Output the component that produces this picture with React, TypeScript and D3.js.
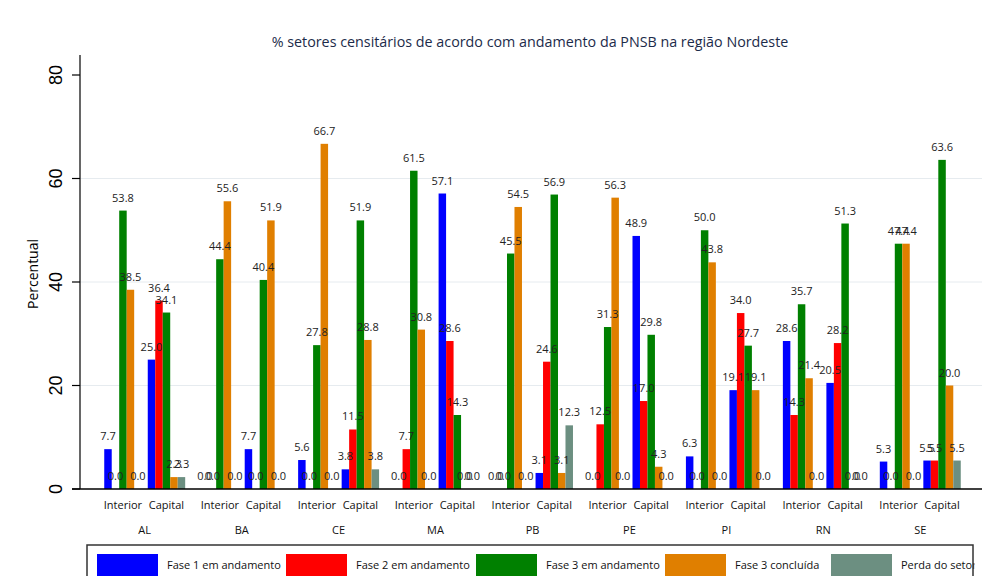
import React from "react";
import * as d3 from "d3";

const title = "% setores censitários de acordo com andamento da PNSB na região Nordeste";

const states = ["AL", "BA", "CE", "MA", "PB", "PE", "PI", "RN", "SE"];
const places = ["Interior", "Capital"];
const seriesNames = [
  "Fase 1 em andamento",
  "Fase 2 em andamento",
  "Fase 3 em andamento",
  "Fase 3 concluída",
  "Perda do setor",
];
const seriesColors = ["#0000ff", "#ff0000", "#008000", "#e07f00", "#6c8f81"];

// values per state, in the order of `states`
const fase1Interior = [7.7, 0.0, 5.6, 0.0, 0.0, 0.0, 6.3, 28.6, 5.3];
const fase1Capital = [25.0, 7.7, 3.8, 57.1, 3.1, 48.9, 19.1, 20.5, 5.5];
const fase2Interior = [0.0, 0.0, 0.0, 7.7, 0.0, 12.5, 0.0, 14.3, 0.0];
const fase2Capital = [36.4, 0.0, 11.5, 28.6, 24.6, 17.0, 34.0, 28.2, 5.5];
const fase3Interior = [53.8, 44.4, 27.8, 61.5, 45.5, 31.3, 50.0, 35.7, 47.4];
const fase3Capital = [34.1, 40.4, 51.9, 14.3, 56.9, 29.8, 27.7, 51.3, 63.6];
const concluidaInterior = [38.5, 55.6, 66.7, 30.8, 54.5, 56.3, 43.8, 21.4, 47.4];
const concluidaCapital = [2.3, 51.9, 28.8, 0.0, 3.1, 4.3, 19.1, 0.0, 20.0];
const perdaInterior = [0.0, 0.0, 0.0, 0.0, 0.0, 0.0, 0.0, 0.0, 0.0];
const perdaCapital = [2.3, 0.0, 3.8, 0.0, 12.3, 0.0, 0.0, 0.0, 5.5];

const yTicks = [0, 20, 40, 60, 80];
const gridTicks = [20, 40, 60];

const seriesByPlace: Record<string, number[][]> = {
  Interior: [fase1Interior, fase2Interior, fase3Interior, concluidaInterior, perdaInterior],
  Capital: [fase1Capital, fase2Capital, fase3Capital, concluidaCapital, perdaCapital],
};

const W = 993;
const H = 576;
const left = 80;
const right = 982;
const top = 55;
const bottom = 489;

const sans = "'Open Sans', sans-serif";

export default function App() {
  const y = d3.scaleLinear().domain([0, 80]).range([bottom, 75]);
  const xState = d3
    .scaleBand<string>()
    .domain(states)
    .range([left, right + 3])
    .paddingInner(0.165)
    .paddingOuter(0.25);
  const xPlace = d3
    .scaleBand<string>()
    .domain(places)
    .range([0, xState.bandwidth()])
    .paddingInner(0.14);
  const xSeries = d3
    .scaleBand<string>()
    .domain(seriesNames)
    .range([0, xPlace.bandwidth()]);

  const bars: { key: string; x: number; v: number; color: string }[] = [];
  states.forEach((st, si) => {
    places.forEach((pl) => {
      seriesNames.forEach((sn, k) => {
        bars.push({
          key: `${st}-${pl}-${k}`,
          x: (xState(st) ?? 0) + (xPlace(pl) ?? 0) + (xSeries(sn) ?? 0),
          v: seriesByPlace[pl][k][si],
          color: seriesColors[k],
        });
      });
    });
  });

  const bw = xSeries.bandwidth();
  // legend item layout (left edge of each key swatch)
  const legendX = [97, 286, 476, 665, 831];

  return (
    <svg width={W} height={H} style={{ display: "block", position: "absolute", left: 0, top: 0 }}>
      <rect width={W} height={H} fill="#fff" />
      <text x={530} y={47} textAnchor="middle" fontFamily={sans} fontSize={14.3} fill="#1c2b4a">
        {title}
      </text>

      {gridTicks.map((t) => (
        <line key={t} x1={left} x2={right} y1={y(t)} y2={y(t)} stroke="#e6ebef" strokeWidth={1} />
      ))}

      {bars.map((b) => (
        <rect key={b.key} x={b.x} y={y(b.v)} width={bw} height={bottom - y(b.v)} fill={b.color} />
      ))}

      {bars.map((b) => (
        <text
          key={"l" + b.key}
          x={b.x + bw / 2}
          y={y(b.v) - 9}
          textAnchor="middle"
          fontFamily={sans}
          fontSize={11}
          fill="#222"
        >
          {b.v.toFixed(1)}
        </text>
      ))}

      {/* y axis */}
      <line x1={left} x2={left} y1={top} y2={bottom} stroke="#000" strokeWidth={1.2} />
      {yTicks.map((t) => (
        <g key={t} transform={`translate(${left},${y(t)})`}>
          <line x1={-8} x2={0} stroke="#000" strokeWidth={1.2} />
          <text
            transform="translate(-18,0) rotate(-90)"
            textAnchor="middle"
            fontFamily="'Liberation Sans', Arial, sans-serif"
            fontSize={18}
            fill="#000"
          >
            {t}
          </text>
        </g>
      ))}
      <text
        transform={`translate(38,${(top + bottom) / 2 + 2}) rotate(-90)`}
        textAnchor="middle"
        fontFamily={sans}
        fontSize={14}
        fill="#000"
      >
        Percentual
      </text>

      {/* x axis */}
      <line x1={left - 8} x2={right} y1={bottom} y2={bottom} stroke="#000" strokeWidth={1.5} />
      {states.map((st) => (
        <g key={st}>
          {places.map((pl) => (
            <text
              key={pl}
              x={(xState(st) ?? 0) + (xPlace(pl) ?? 0) + xPlace.bandwidth() / 2}
              y={509}
              textAnchor="middle"
              fontFamily={sans}
              fontSize={11}
              fill="#111"
            >
              {pl}
            </text>
          ))}
          <text
            x={(xState(st) ?? 0) + xState.bandwidth() / 2}
            y={534}
            textAnchor="middle"
            fontFamily={sans}
            fontSize={11}
            fill="#111"
          >
            {st}
          </text>
        </g>
      ))}

      {/* legend */}
      <rect x={87} y={545} width={886} height={40} fill="#fff" />
      {seriesNames.map((sn, k) => (
        <g key={sn}>
          <rect x={legendX[k]} y={554} width={61} height={22} fill={seriesColors[k]} />
          <text x={legendX[k] + 70} y={569} fontFamily={sans} fontSize={11} fill="#111">
            {sn}
          </text>
        </g>
      ))}
      <rect x={974.5} y={545} width={W} height={40} fill="#fff" />
      <rect x={87} y={545} width={886} height={40} fill="none" stroke="#333" strokeWidth={1.5} />
    </svg>
  );
}
